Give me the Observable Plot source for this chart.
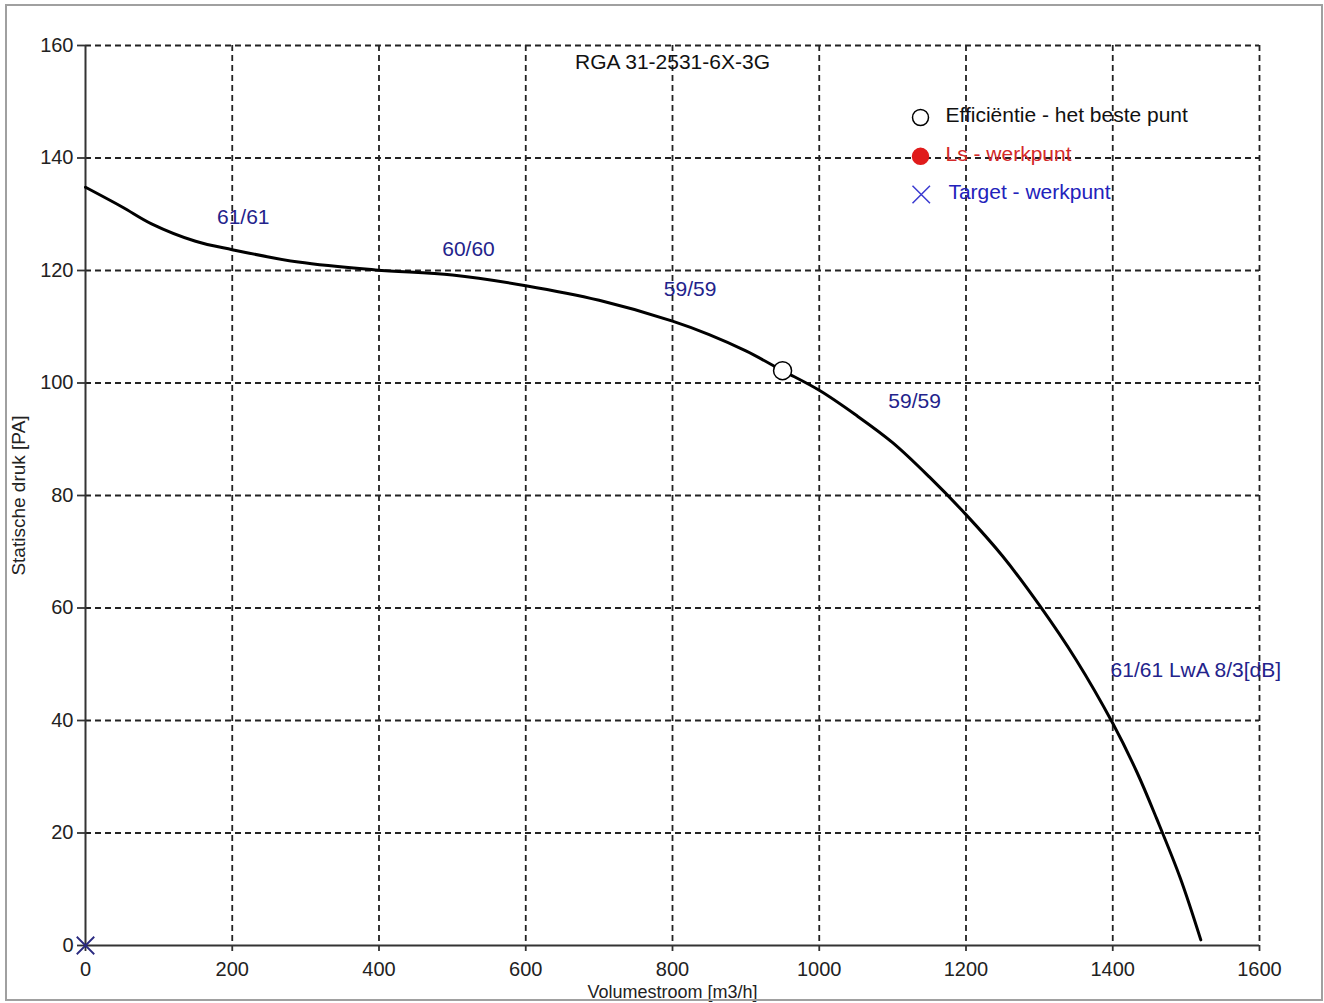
<!DOCTYPE html>
<html>
<head>
<meta charset="utf-8">
<script src="https://cdn.jsdelivr.net/npm/d3@7"></script>
<script src="https://cdn.jsdelivr.net/npm/@observablehq/plot@0.6"></script>
<style>
  html, body { margin: 0; padding: 0; background: #fff; }
  #wrap { position: relative; width: 1324px; height: 1003px; overflow: hidden; }
  #frame { position: absolute; left: 5px; top: 4px; width: 1314px; height: 993px; border: 2px solid #a0a0a0; pointer-events: none; }
</style>
</head>
<body>
<div id="wrap"><div id="frame"></div></div>
<script>
// ---- data ----
const xTicks = [0, 200, 400, 600, 800, 1000, 1200, 1400, 1600];
const yTicks = [0, 20, 40, 60, 80, 100, 120, 140, 160];

const flow =     [0, 50, 90, 150, 200, 290, 395, 500, 600, 700, 800, 850, 900, 950, 1000, 1050, 1100, 1150, 1200, 1250, 1300, 1350, 1400, 1433, 1460, 1492, 1520];
const pressure = [134.8, 131.3, 128.3, 125.2, 123.7, 121.5, 120.1, 119.2, 117.3, 114.7, 111, 108.6, 105.7, 102.2, 98.7, 94.3, 89.4, 83.3, 76.6, 69.2, 60.5, 50.8, 39.5, 30.8, 22.5, 12, 1];

const bestPointX = [950];
const bestPointY = [102.2];
const targetX = [0];
const targetY = [0];

const noiseLabelX = [215, 522, 824, 1130];
const noiseLabelY = [129.4, 123.7, 116.6, 96.7];
const noiseLabelText = ["61/61", "60/60", "59/59", "59/59"];
const lwaLabelX = [1397];
const lwaLabelY = [48.9];
const lwaLabelText = ["61/61 LwA 8/3[dB]"];

const titleText = ["RGA 31-2531-6X-3G"];
const xTitle = ["Volumestroom [m3/h]"];
const yTitle = ["Statische druk [PA]"];

const legendText = ["Efficiëntie - het beste punt", "Ls - werkpunt", "Target - werkpunt"];
const legendSymX = [1138, 1138, 1139];
const legendSymY = [147.2, 140.3, 133.5];
const legendTextX = [1172, 1172, 1176];

// ---- build ----
const curve = flow.map((x, i) => ({x, y: pressure[i]}));
const idx = a => a.map((_, i) => i);
const font = "'Liberation Sans', Arial, sans-serif";

const chart = Plot.plot({
  width: 1324,
  height: 1003,
  marginLeft: 85,
  marginRight: 65,
  marginTop: 45,
  marginBottom: 58,
  style: {fontFamily: font, fontSize: "21px", background: "transparent", color: "#222"},
  x: {domain: [0, 1600]},
  y: {domain: [0, 160]},
  marks: [
    Plot.gridX(xTicks.slice(1), {stroke: "#222", strokeOpacity: 1, strokeWidth: 1.8, strokeDasharray: "6,4"}),
    Plot.gridY(yTicks.slice(1), {stroke: "#222", strokeOpacity: 1, strokeWidth: 1.8, strokeDasharray: "6,4"}),
    Plot.axisX(xTicks, {tickSize: 6, tickPadding: 10, fontSize: 20, label: null, stroke: "#333", strokeWidth: 1.8, fill: "#222", tickFormat: d => String(d)}),
    Plot.axisY(yTicks, {tickSize: 8, tickPadding: 4, fontSize: 20, label: null, stroke: "#333", strokeWidth: 1.8, fill: "#222", tickFormat: d => String(d)}),
    Plot.ruleX([0], {stroke: "#333", strokeWidth: 2}),
    Plot.ruleY([0], {stroke: "#333", strokeWidth: 2}),
    Plot.line(curve, {x: "x", y: "y", stroke: "#000", strokeWidth: 3, curve: "catmull-rom"}),
    Plot.dot(bestPointX, {x: d => d, y: (d, i) => bestPointY[i], r: 9, stroke: "#000", fill: "#fff", strokeWidth: 1.5}),
    Plot.dot(targetX, {x: d => d, y: (d, i) => targetY[i], symbol: "times", r: 8, stroke: "#2a2a80", strokeWidth: 1.8}),
    Plot.text(idx(noiseLabelText), {x: i => noiseLabelX[i], y: i => noiseLabelY[i], text: i => noiseLabelText[i], fill: "#23238b", fontSize: 21, textAnchor: "middle"}),
    Plot.text(idx(lwaLabelText), {x: i => lwaLabelX[i], y: i => lwaLabelY[i], text: i => lwaLabelText[i], fill: "#23238b", fontSize: 21, textAnchor: "start"}),
    Plot.text(titleText, {frameAnchor: "top", lineAnchor: "middle", dy: 17, text: d => d, fill: "#111", fontSize: 21}),
    Plot.text(xTitle, {frameAnchor: "bottom", lineAnchor: "middle", dy: 47, text: d => d, fill: "#222", fontSize: 18}),
    Plot.text(yTitle, {frameAnchor: "left", textAnchor: "middle", lineAnchor: "middle", dx: -67, rotate: -90, text: d => d, fill: "#222", fontSize: 19}),
    // legend
    Plot.dot([0], {x: () => legendSymX[0], y: () => legendSymY[0], r: 8, stroke: "#000", fill: "#fff", strokeWidth: 1.5}),
    Plot.dot([1], {x: () => legendSymX[1], y: () => legendSymY[1], r: 8, stroke: "#e01b1b", fill: "#e01b1b"}),
    Plot.dot([2], {x: () => legendSymX[2], y: () => legendSymY[2], symbol: "times", r: 8, stroke: "#3a3ad0", strokeWidth: 1.5}),
    Plot.text(idx(legendText), {x: i => legendTextX[i], y: i => legendSymY[i] + 0.4, text: i => legendText[i], textAnchor: "start", fontSize: 21, fill: i => ["#111", "#d42a2a", "#2222bb"][i]})
  ]
});
document.getElementById("wrap").prepend(chart);
</script>
</body>
</html>
